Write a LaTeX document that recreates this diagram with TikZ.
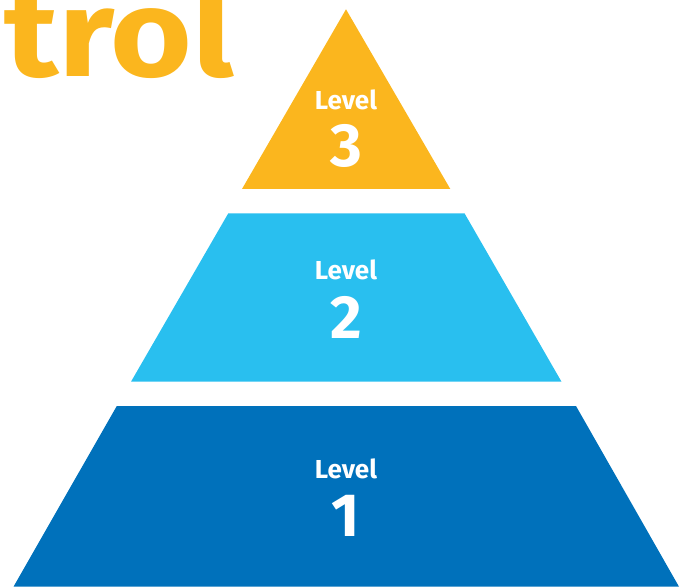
\documentclass[tikz,border=0pt]{standalone}
\usepackage{fontspec}
\setmainfont{Fira Sans}
\definecolor{lvlorange}{HTML}{FBB61E}
\definecolor{lvllight}{HTML}{29BFEF}
\definecolor{lvldark}{HTML}{0071BB}
\begin{document}
\begin{tikzpicture}[x=1pt,y=-1pt,
  lvltxt/.style={text=white,font=\bfseries\fontsize{26}{26}\selectfont,inner sep=0pt},
  lvlnum/.style={text=white,font=\bfseries\fontsize{61}{61}\selectfont,inner sep=0pt}]
\useasboundingbox (0,0) rectangle (686,588);
\clip (0,0) rectangle (686,588);
% title fragment
\node[anchor=base west,inner sep=0pt,text=lvlorange,xscale=1.13,font=\bfseries\fontsize{124}{124}\selectfont] (title) at (4,77) {trol};
% level 3
\fill[lvlorange] (346,9.3) -- (450.3,189) -- (242,189) -- cycle;
% level 2
\fill[lvllight] (228.3,213.3) -- (464.5,213.3) -- (561.5,381.7) -- (131,381.7) -- cycle;
% level 1
\fill[lvldark] (116.8,406) -- (576,406) -- (679,586.7) -- (13.5,586.7) -- cycle;
% labels
\node[lvltxt,anchor=base] (l3) at (346,110) {Level};
\node[lvlnum,anchor=base] (n3) at (346,167) {3};
\node[lvltxt,anchor=base] (l2) at (346,280) {Level};
\node[lvlnum,anchor=base] (n2) at (346,338) {2};
\node[lvltxt,anchor=base] (l1) at (346,478) {Level};
\node[lvlnum,anchor=base] (n1) at (346,536) {1};
\end{tikzpicture}
\end{document}
